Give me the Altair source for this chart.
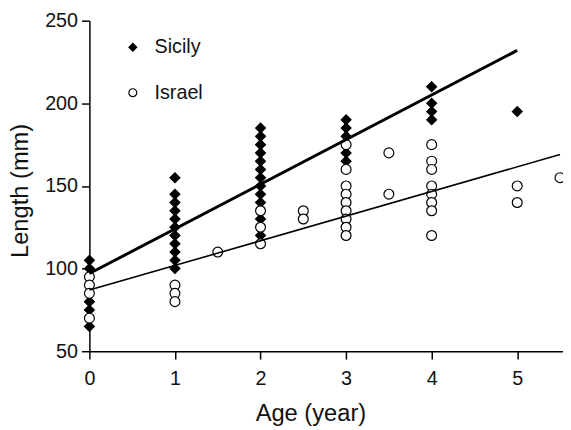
import altair as alt
import pandas as pd

# Points
sicily_age = [0, 0, 0, 0, 0,
              1, 1, 1, 1, 1, 1, 1, 1, 1, 1, 1,
              2, 2, 2, 2, 2, 2, 2, 2, 2, 2, 2, 2,
              3, 3, 3, 3, 3,
              4, 4, 4, 4,
              5]
sicily_len = [105, 100, 80, 75, 65,
              155, 145, 140, 135, 130, 125, 120, 115, 110, 105, 100,
              185, 180, 175, 170, 165, 160, 155, 150, 145, 140, 130, 120,
              190, 185, 180, 170, 165,
              210, 200, 195, 190,
              195]

israel_age = [0, 0, 0, 0,
              1, 1, 1,
              1.5,
              2, 2, 2,
              2.5, 2.5,
              3, 3, 3, 3, 3, 3, 3, 3, 3,
              3.5, 3.5,
              4, 4, 4, 4, 4, 4, 4, 4,
              5, 5,
              5.5]
israel_len = [95, 90, 85, 70,
              90, 85, 80,
              110,
              135, 125, 115,
              135, 130,
              175, 160, 150, 145, 140, 135, 130, 125, 120,
              170, 145,
              175, 165, 160, 150, 145, 140, 135, 120,
              150, 140,
              155]

# Fitted lines (end points)
sicily_fit_age = [0, 5]
sicily_fit_len = [97, 232]
israel_fit_age = [0, 5.5]
israel_fit_len = [87, 169]

groups = ["Sicily", "Israel"]

pts = pd.DataFrame({
    "age": sicily_age + israel_age,
    "len": sicily_len + israel_len,
    "group": ["Sicily"] * len(sicily_age) + ["Israel"] * len(israel_age),
})
pts["order"] = range(len(pts))
sic_fit = pd.DataFrame({"age": sicily_fit_age, "len": sicily_fit_len})
isr_fit = pd.DataFrame({"age": israel_fit_age, "len": israel_fit_len})

FONT = "Liberation Sans"

xscale = alt.Scale(domain=[0, 5.535], nice=False, zero=False)
yscale = alt.Scale(domain=[50, 250], nice=False, zero=False)

common_axis = dict(grid=False, tickSize=8, labelFontSize=20, labelFlush=False, format="d",
                   titleFontSize=24, titleFontWeight="normal",
                   domainColor="black", tickColor="black", domainWidth=1.5, tickWidth=1.5,
                   labelColor="#111", titleColor="#111", labelFont=FONT, titleFont=FONT)

xaxis = alt.Axis(values=[0, 1, 2, 3, 4, 5], title="Age (year)", labelPadding=10,
                 titleX=224, titleY=70, titleBaseline="alphabetic", titleAlign="center",
                 **common_axis)
yaxis = alt.Axis(values=[50, 100, 150, 200, 250], title="Length (mm)", labelPadding=4,
                 titleX=-70, titleY=172, titleAngle=270, titleBaseline="middle", titleAlign="center",
                 **common_axis)

leg = alt.Legend(title=None, orient="none", legendX=34, legendY=17,
                 symbolSize=64, symbolStrokeWidth=1.2,
                 labelFontSize=20, labelFont=FONT, labelColor="#111",
                 labelOffset=12, rowPadding=26, padding=0)

points = alt.Chart(pts).mark_point(strokeWidth=1.2, opacity=1, fillOpacity=1).encode(
    x=alt.X("age:Q", scale=xscale, axis=xaxis),
    y=alt.Y("len:Q", scale=yscale, axis=yaxis),
    shape=alt.Shape("group:N", scale=alt.Scale(domain=groups, range=["diamond", "circle"]), legend=leg),
    fill=alt.Fill("group:N", scale=alt.Scale(domain=groups, range=["black", "white"]), legend=leg),
    stroke=alt.Stroke("group:N", scale=alt.Scale(domain=groups, range=["black", "black"]), legend=leg),
    size=alt.value(100),
    order="order:Q",
)

sic_line = alt.Chart(sic_fit).mark_line(color="black", strokeWidth=3).encode(
    x=alt.X("age:Q", scale=xscale), y=alt.Y("len:Q", scale=yscale))
isr_line = alt.Chart(isr_fit).mark_line(color="black", strokeWidth=1.6).encode(
    x=alt.X("age:Q", scale=xscale), y=alt.Y("len:Q", scale=yscale))

chart = alt.layer(points, sic_line, isr_line).properties(
    width=480, height=335,
    autosize=alt.AutoSizeParams(type="none"),
    padding={"left": 82.5, "top": 10, "right": 0, "bottom": 77},
    background="white",
).configure_view(stroke=None)

chart.save("out.html", embed_options={"renderer": "svg", "actions": False})
